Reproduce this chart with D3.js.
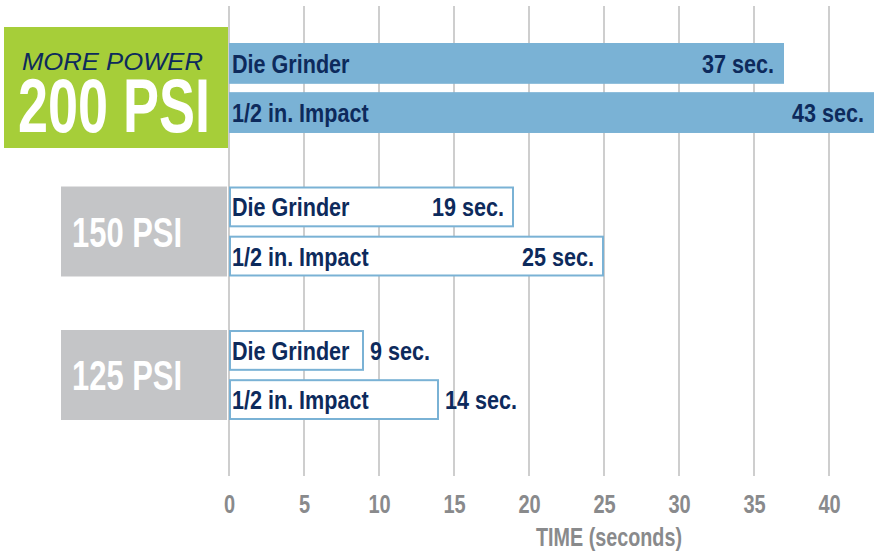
<!DOCTYPE html>
<html>
<head>
<meta charset="utf-8">
<script src="https://cdn.jsdelivr.net/npm/d3@7"></script>
<style>
  body { margin: 0; background: #fff; }
  svg text { font-family: "Liberation Sans", Arial, sans-serif; font-weight: bold; }
</style>
</head>
<body>
<div id="chart"></div>
<script>
// data
const pressures = ["200 PSI", "150 PSI", "125 PSI"];
const tools = ["Die Grinder", "1/2 in. Impact"];
const times200 = [37, 43];
const times150 = [19, 25];
const times125 = [9, 14];
const tickValues = [0, 5, 10, 15, 20, 25, 30, 35, 40];

const width = 884, height = 554;
const navy = "#0d2a5c", blue = "#7ab2d5", grey = "#c4c5c7", green = "#a6ce39", axisGrey = "#898a8c";
const narrow = 0.83; // no condensed font installed, squeeze horizontally

const data = [];
[times200, times150, times125].forEach((arr, i) => {
    arr.forEach((v, j) => data.push({ psi: pressures[i], tool: tools[j], value: v, filled: i === 0 }));
});

const svg = d3.select("#chart")
    .append("svg")
    .attr("width", width)
    .attr("height", height);

// scales
const x = d3.scaleLinear().domain([0, 40]).range([229, 829]);
const y = d3.scaleBand().domain(pressures).range([43, 420]).paddingInner(0.373);
const yi = d3.scaleBand().domain(tools).range([0, y.bandwidth()]).paddingInner(0.17);

// gridlines
svg.append("g")
    .selectAll("line")
    .data(tickValues)
    .join("line")
    .attr("x1", d => x(d)).attr("x2", d => x(d))
    .attr("y1", 6).attr("y2", 476)
    .attr("stroke", "#c2c2c2")
    .attr("stroke-width", 1.6);

// axis labels
const axis = svg.append("g")
    .attr("transform", "translate(0,476)")
    .attr("font-family", null)
    .attr("font-size", null)
    .call(d3.axisBottom(x).tickValues(tickValues).tickSize(0).tickPadding(0));
axis.select(".domain").remove();
axis.selectAll(".tick text")
    .attr("y", null).attr("dy", null)
    .attr("transform", `translate(0,37) scale(${narrow - 0.03},1)`)
    .attr("fill", axisGrey)
    .style("font-size", "25px");

svg.append("text")
    .attr("transform", "translate(609,546) scale(0.76,1)")
    .attr("text-anchor", "middle")
    .attr("fill", axisGrey)
    .style("font-size", "26px")
    .text("TIME (seconds)");

// left boxes
svg.append("rect")
    .attr("x", 4).attr("y", 27).attr("width", 224).attr("height", 121)
    .attr("fill", green);
svg.append("text")
    .attr("x", 22).attr("y", 70)
    .attr("fill", navy)
    .style("font-weight", "normal")
    .style("font-style", "italic")
    .style("font-size", "24px")
    .attr("textLength", 181)
    .attr("lengthAdjust", "spacingAndGlyphs")
    .text("MORE POWER");
svg.append("text")
    .attr("x", 18).attr("y", 132)
    .attr("fill", "#fff")
    .style("font-size", "76px")
    .attr("textLength", 192)
    .attr("lengthAdjust", "spacingAndGlyphs")
    .text(pressures[0]);

pressures.slice(1).forEach(p => {
    svg.append("rect")
        .attr("x", 61).attr("y", y(p)).attr("width", 166).attr("height", y.bandwidth())
        .attr("fill", grey);
    svg.append("text")
        .attr("x", 72).attr("y", y(p) + y.bandwidth() / 2 + 15)
        .attr("fill", "#fff")
        .style("font-size", "43px")
        .attr("textLength", 110)
        .attr("lengthAdjust", "spacingAndGlyphs")
        .text(p);
});

// bars
const bars = svg.append("g")
    .selectAll("g")
    .data(data)
    .join("g")
    .attr("transform", d => `translate(0,${y(d.psi) + yi(d.tool)})`);

bars.append("rect")
    .attr("x", d => d.filled ? x(0) : x(0) + 1)
    .attr("y", d => d.filled ? 0 : 1)
    .attr("width", d => d.filled ? x(d.value) - x(0) : x(d.value) - x(0) - 2)
    .attr("height", d => d.filled ? yi.bandwidth() : yi.bandwidth() - 2)
    .attr("fill", d => d.filled ? blue : "#fff")
    .attr("stroke", d => d.filled ? "none" : blue)
    .attr("stroke-width", 2);

const ty = yi.bandwidth() / 2 + 9.5;

bars.append("text")
    .attr("transform", `translate(${x(0) + 3},${ty}) scale(${narrow},1)`)
    .attr("fill", navy)
    .style("font-size", "26px")
    .text(d => d.tool)
    .each(function (d) { d.nameW = this.getComputedTextLength() * narrow; });

bars.append("text")
    .attr("fill", navy)
    .style("font-size", "26px")
    .text(d => d.value + " sec.")
    .each(function (d) {
        const w = this.getComputedTextLength() * narrow;
        const inside = x(d.value) - x(0) > d.nameW + w + 20;
        d3.select(this)
            .attr("transform", `translate(${inside ? x(d.value) - 10 : x(d.value) + 6},${ty}) scale(${narrow},1)`)
            .attr("text-anchor", inside ? "end" : "start");
    });
</script>
</body>
</html>
